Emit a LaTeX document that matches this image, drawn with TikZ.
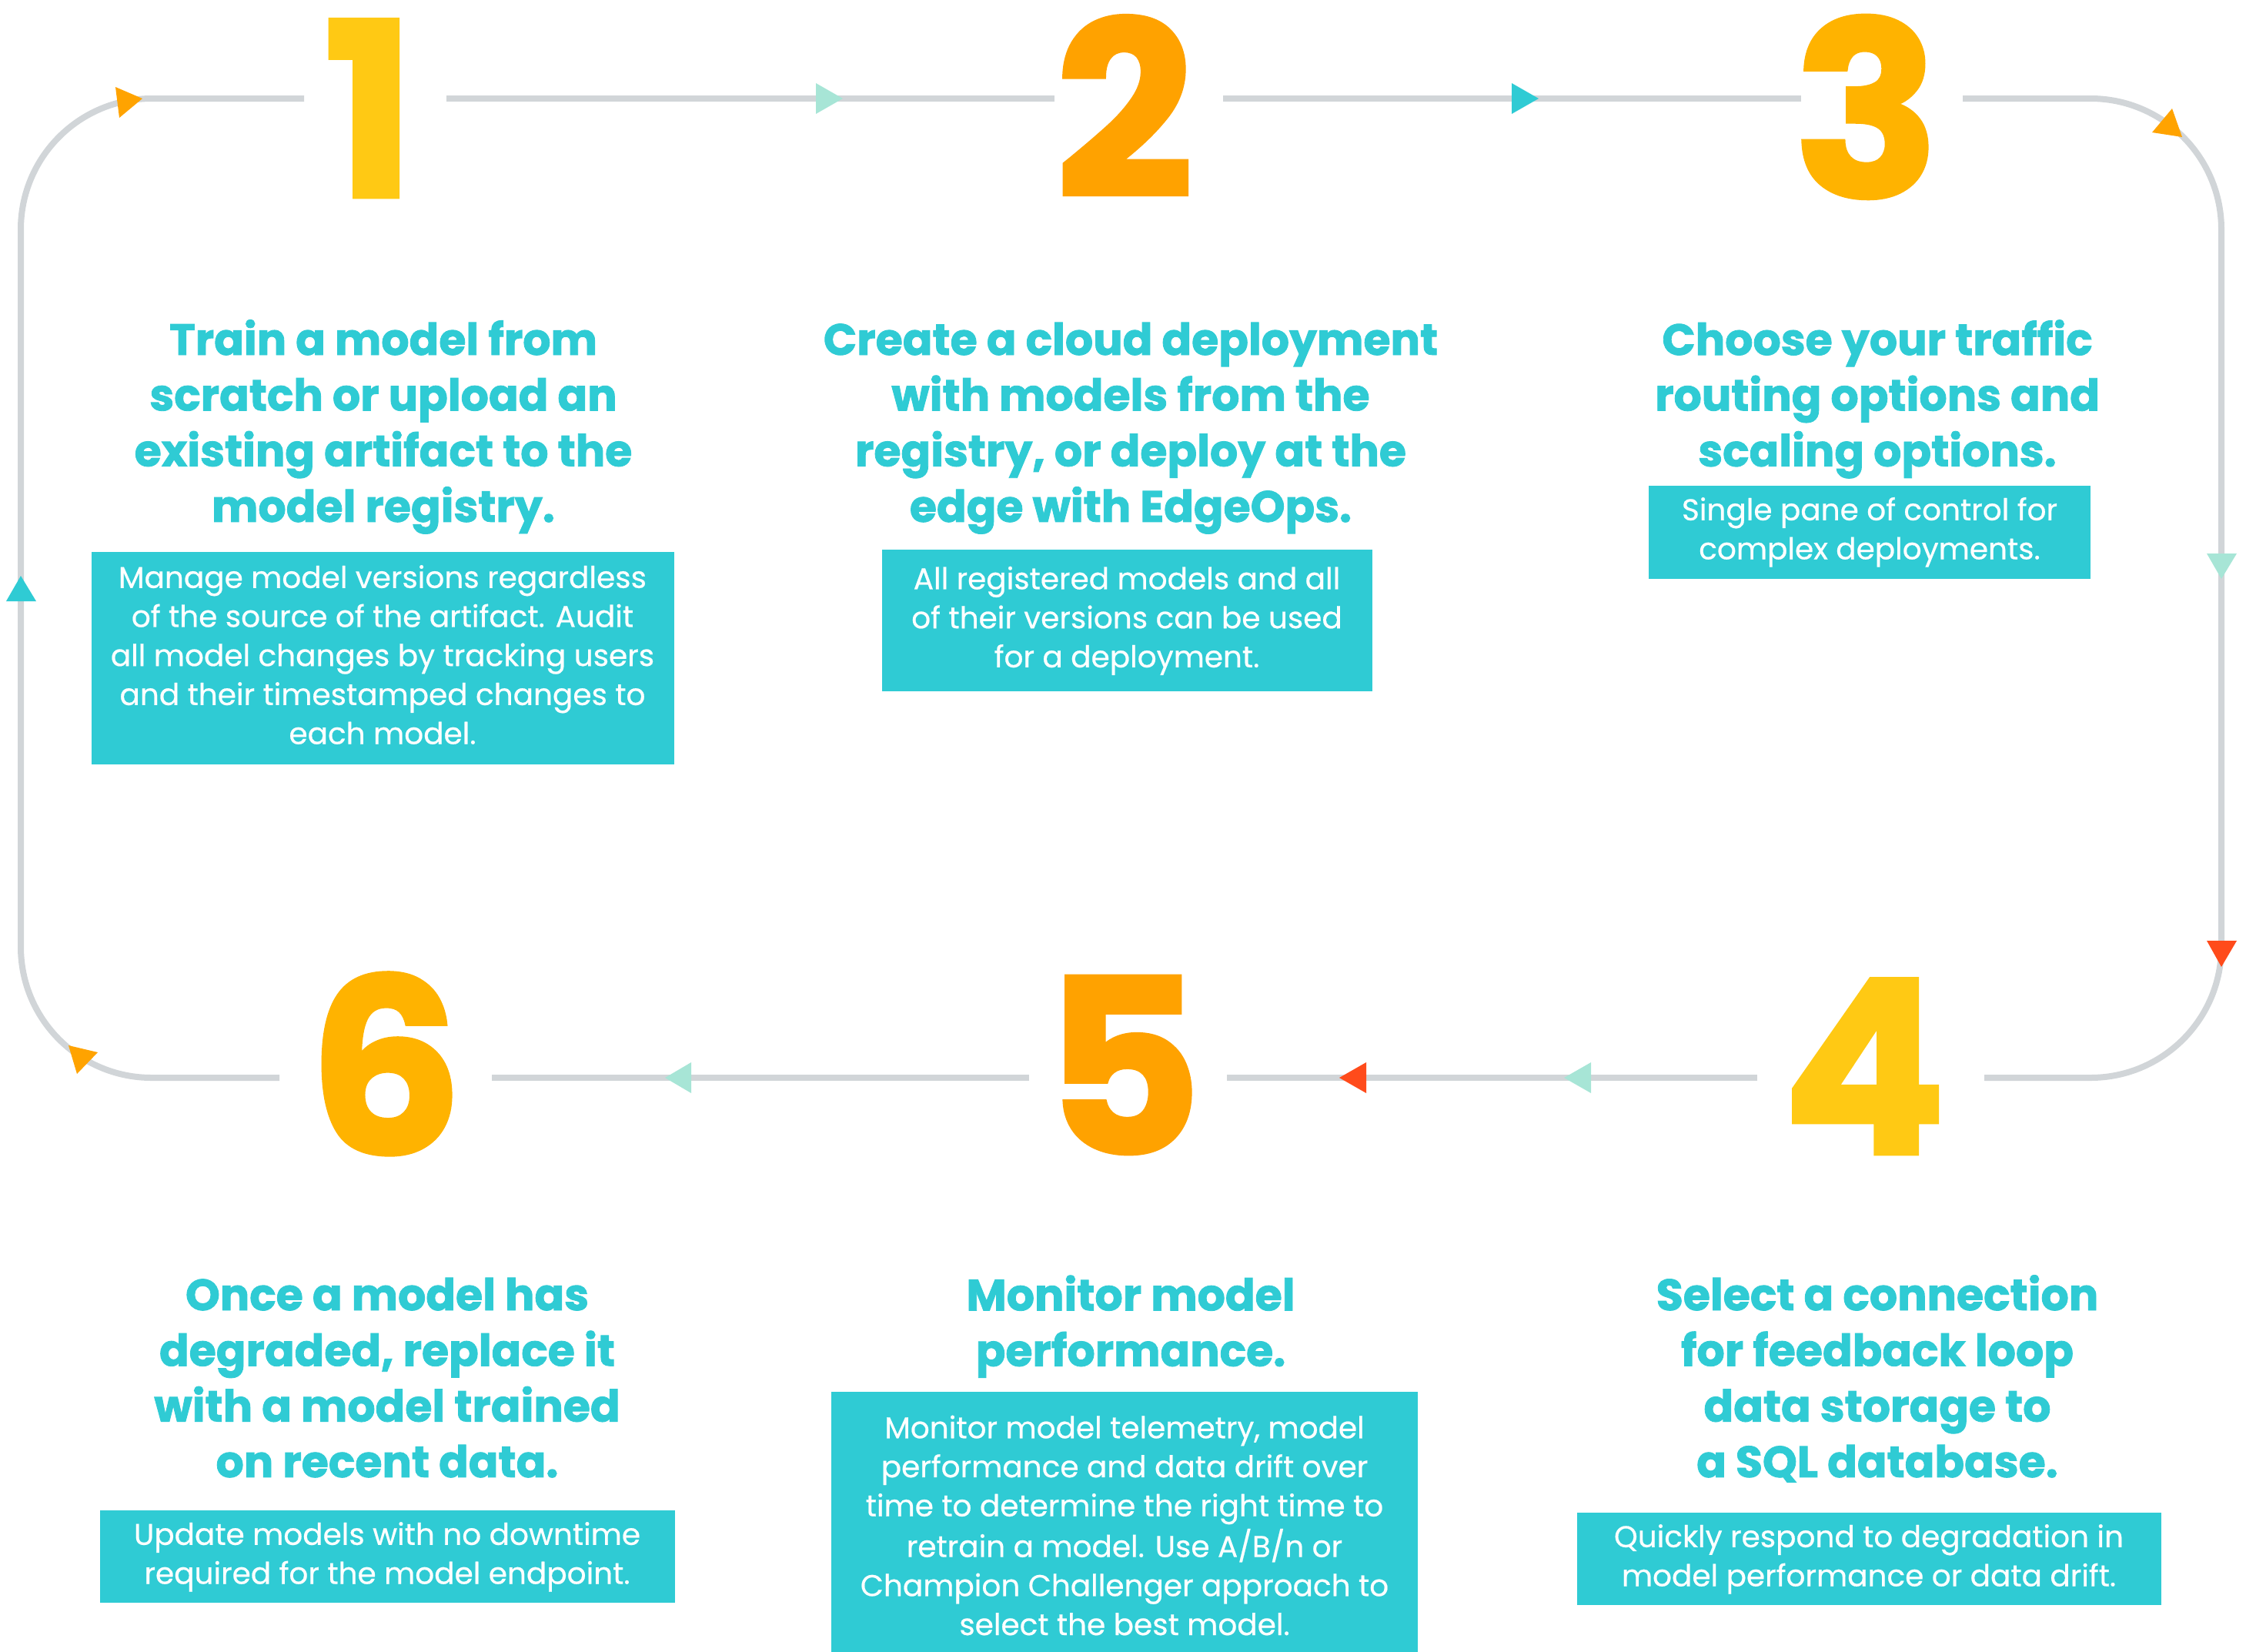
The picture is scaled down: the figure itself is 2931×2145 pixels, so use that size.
\documentclass[tikz,border=0pt]{standalone}
\usepackage{fontspec}
\setmainfont{Poppins}[UprightFeatures={FakeBold=0.5},BoldFeatures={FakeBold=1.5}]
\definecolor{cTeal}{HTML}{2FCBD4}
\definecolor{cLine}{HTML}{D1D5D8}
\definecolor{cMint}{HTML}{A7E5D6}
\definecolor{cOrange}{HTML}{FFA300}
\definecolor{cRed}{HTML}{FF4B1B}
\definecolor{cNumA}{HTML}{FFC914}
\definecolor{cNumB}{HTML}{FFA200}
\definecolor{cNumC}{HTML}{FFB300}
\newcommand\ls{\rule[-0.3\baselineskip]{0pt}{\baselineskip}}
\begin{document}
\begin{tikzpicture}[x=1pt,y=-1pt,
  loopline/.style={draw=cLine, line width=8pt, rounded corners=170pt},
  heading/.style={text=cTeal, font=\fontsize{57}{72.3}\selectfont\bfseries, align=center, inner sep=0pt},
  infobox/.style={fill=cTeal, text=white, font=\fontsize{39}{50.7}\selectfont, align=center, inner sep=0pt},
  bignum/.style={font=\fontsize{316}{316}\selectfont\bfseries, inner sep=0pt, anchor=base},
]
\useasboundingbox (0,0) rectangle (2931,2145);

% big numbers
\node[bignum, text=cNumA] (n1) at (480,256) {1};
\node[bignum, text=cNumB] (n2) at (1461,256) {2};
\node[bignum, text=cNumC] (n3) at (2425,256) {3};
\node[bignum, text=cNumA] (n4) at (2422,1499) {4};
\node[bignum, text=cNumB] (n5) at (1459,1499) {5};
\node[bignum, text=cNumC] (n6) at (501,1499) {6};

% gap ends of the loop
\coordinate (t1l) at (395,128);  \coordinate (t1r) at (580,128);
\coordinate (t2l) at (1370,128); \coordinate (t2r) at (1589,128);
\coordinate (t3l) at (2340,128); \coordinate (t3r) at (2550,128);
\coordinate (b6l) at (363,1400); \coordinate (b6r) at (639,1400);
\coordinate (b5l) at (1337,1400); \coordinate (b5r) at (1594,1400);
\coordinate (b4l) at (2283,1400); \coordinate (b4r) at (2578,1400);

% loop
\draw[loopline] (t1l) -- (27,128) -- (27,1400) -- (b6l);
\draw[loopline] (t1r) -- (t2l);
\draw[loopline] (t2r) -- (t3l);
\draw[loopline] (t3r) -- (2886,128) -- (2886,1400) -- (b4r);
\draw[loopline] (b4l) -- (b5r);
\draw[loopline] (b5l) -- (b6r);

% arrowheads
\fill[cOrange] (150,113) -- (185,128) -- (155,153) -- cycle;
\fill[cMint] (1060,108) -- (1095,128) -- (1060,148) -- cycle;
\fill[cTeal] (1964,108) -- (1999,128) -- (1964,148) -- cycle;
\fill[cOrange] (2822,141) -- (2835,178) -- (2796,172) -- cycle;
\fill[cMint] (2867,719) -- (2906,719) -- (2886,752) -- cycle;
\fill[cRed] (2867,1222) -- (2906,1222) -- (2886,1256) -- cycle;
\fill[cMint] (2067,1380) -- (2067,1420) -- (2032,1400) -- cycle;
\fill[cRed] (1775,1380) -- (1775,1420) -- (1740,1400) -- cycle;
\fill[cMint] (898,1380) -- (898,1420) -- (864,1400) -- cycle;
\fill[cOrange] (89,1358) -- (127,1367) -- (100,1395) -- cycle;
\fill[cTeal] (8,781) -- (47,781) -- (27,748) -- cycle;

% headings
\node[heading] (h1) at (498,555) {\ls Train a model from\\\ls scratch or upload an\\\ls existing artifact to the\\\ls model registry.};
\node[heading] (h2) at (1469,555) {\ls Create a cloud deployment\\\ls with models from the\\\ls registry, or deploy at the\\\ls edge with EdgeOps.};
\node[heading] (h3) at (2439,519) {\ls Choose your traffic\\\ls routing options and\\\ls scaling options.};
\node[heading] (h4) at (2439,1796) {\ls Select a connection\\\ls for feedback loop\\\ls data storage to\\\ls a SQL database.};
\node[heading] (h5) at (1469,1724) {\ls Monitor model\\\ls performance.};
\node[heading] (h6) at (503,1796) {\ls Once a model has\\\ls degraded, replace it\\\ls with a model trained\\\ls on recent data.};

% info boxes
\node[infobox, minimum width=757pt, minimum height=276pt] (b1) at (497,855) {\ls Manage model versions regardless\\\ls of the source of the artifact. Audit\\\ls all model changes by tracking users\\\ls and their timestamped changes to\\\ls each model.};
\node[infobox, minimum width=637pt, minimum height=184pt] (b2) at (1464,806) {\ls All registered models and all\\\ls of their versions can be used\\\ls for a deployment.};
\node[infobox, minimum width=574pt, minimum height=121pt] (b3) at (2429,691) {\ls Single pane of control for\\\ls complex deployments.};
\node[infobox, minimum width=759pt, minimum height=120pt] (b4) at (2428,2025) {\ls Quickly respond to degradation in\\\ls model performance or data drift.};
\node[infobox, minimum width=762pt, minimum height=356pt] (b5) at (1461,1986) {\ls Monitor model telemetry, model\\\ls performance and data drift over\\\ls time to determine the right time to\\\ls retrain a model. Use A/B/n or\\\ls Champion Challenger approach to\\\ls select the best model.};
\node[infobox, minimum width=747pt, minimum height=120pt] (b6) at (503,2022) {\ls Update models with no downtime\\\ls required for the model endpoint.};
\end{tikzpicture}
\end{document}
